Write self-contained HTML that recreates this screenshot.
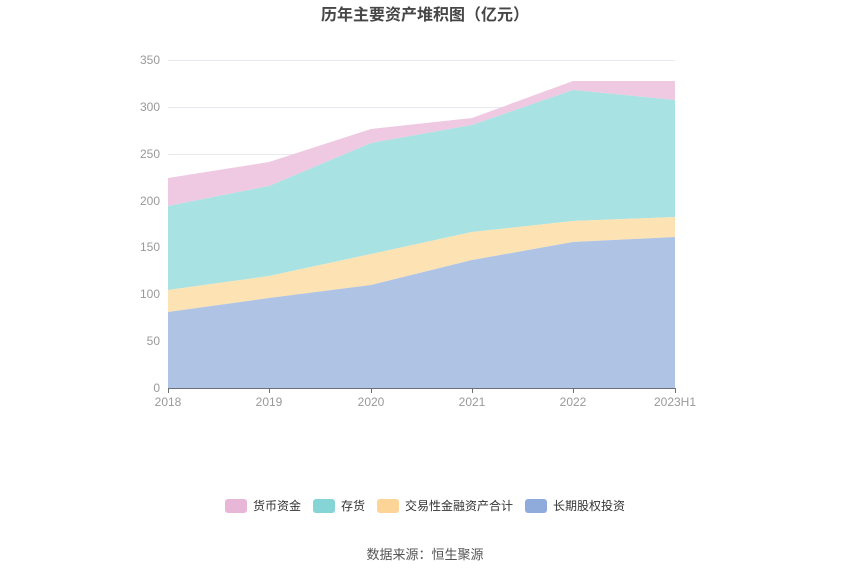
<!DOCTYPE html>
<html><head><meta charset="utf-8"><style>
body{margin:0;background:#fff;width:850px;height:575px;overflow:hidden;font-family:"Liberation Sans","Noto Sans CJK SC",sans-serif;}
</style></head><body>
<svg width="850" height="575" xmlns="http://www.w3.org/2000/svg" font-family="Liberation Sans, Noto Sans CJK SC, sans-serif">
<text x="425" y="20" text-anchor="middle" font-size="16" font-weight="bold" fill="#464646">历年主要资产堆积图（亿元）</text>
<g stroke="#e6e9f0" stroke-width="1">
<line x1="168" x2="675" y1="60.5" y2="60.5"/><line x1="168" x2="675" y1="107.5" y2="107.5"/>
<line x1="168" x2="675" y1="154.5" y2="154.5"/><line x1="168" x2="675" y1="201.5" y2="201.5"/>
<line x1="168" x2="675" y1="247.5" y2="247.5"/><line x1="168" x2="675" y1="294.5" y2="294.5"/>
<line x1="168" x2="675" y1="341.5" y2="341.5"/>
</g>
<g font-size="12" fill="#999" text-anchor="end">
<text x="160" y="64">350</text><text x="160" y="111">300</text><text x="160" y="158">250</text>
<text x="160" y="205">200</text><text x="160" y="251">150</text><text x="160" y="298">100</text>
<text x="160" y="345">50</text><text x="160" y="392">0</text>
</g>
<polygon fill="#efc9e1" points="168,178 269,162 371,129 472,118 573,81 675,81 675,100 573,90 472,125 371,143 269,186 168,206"/>
<polygon fill="#a8e2e2" points="168,206 269,186 371,143 472,125 573,90 675,100 675,217 573,221 472,232 371,254 269,276 168,290"/>
<polygon fill="#fde3b3" points="168,290 269,276 371,254 472,232 573,221 675,217 675,237 573,242 472,260 371,285 269,298 168,312"/>
<polygon fill="#afc3e4" points="168,312 269,298 371,285 472,260 573,242 675,237 675,388 168,388"/>
<line x1="168" x2="675" y1="388.5" y2="388.5" stroke="#6e7079"/>
<g stroke="#6e7079"><line x1="168.5" x2="168.5" y1="388" y2="393"/><line x1="269.5" x2="269.5" y1="388" y2="393"/><line x1="371.5" x2="371.5" y1="388" y2="393"/><line x1="472.5" x2="472.5" y1="388" y2="393"/><line x1="573.5" x2="573.5" y1="388" y2="393"/><line x1="675.5" x2="675.5" y1="388" y2="393"/></g>
<g font-size="12" fill="#999" text-anchor="middle">
<text x="168" y="406">2018</text><text x="269" y="406">2019</text><text x="371" y="406">2020</text>
<text x="472" y="406">2021</text><text x="573" y="406">2022</text><text x="675" y="406">2023H1</text>
</g>
<g font-size="12" fill="#333">
<rect x="225" y="499" width="22" height="14" rx="3" fill="#e8b6d6"/><text x="253" y="510">货币资金</text>
<rect x="313" y="499" width="22" height="14" rx="3" fill="#86d5d6"/><text x="341" y="510">存货</text>
<rect x="377" y="499" width="22" height="14" rx="3" fill="#fdd497"/><text x="405" y="510">交易性金融资产合计</text>
<rect x="525" y="499" width="22" height="14" rx="3" fill="#8fabdc"/><text x="553" y="510">长期股权投资</text>
</g>
<text x="425" y="559" text-anchor="middle" font-size="13" fill="#555">数据来源：恒生聚源</text>
</svg>
</body></html>
